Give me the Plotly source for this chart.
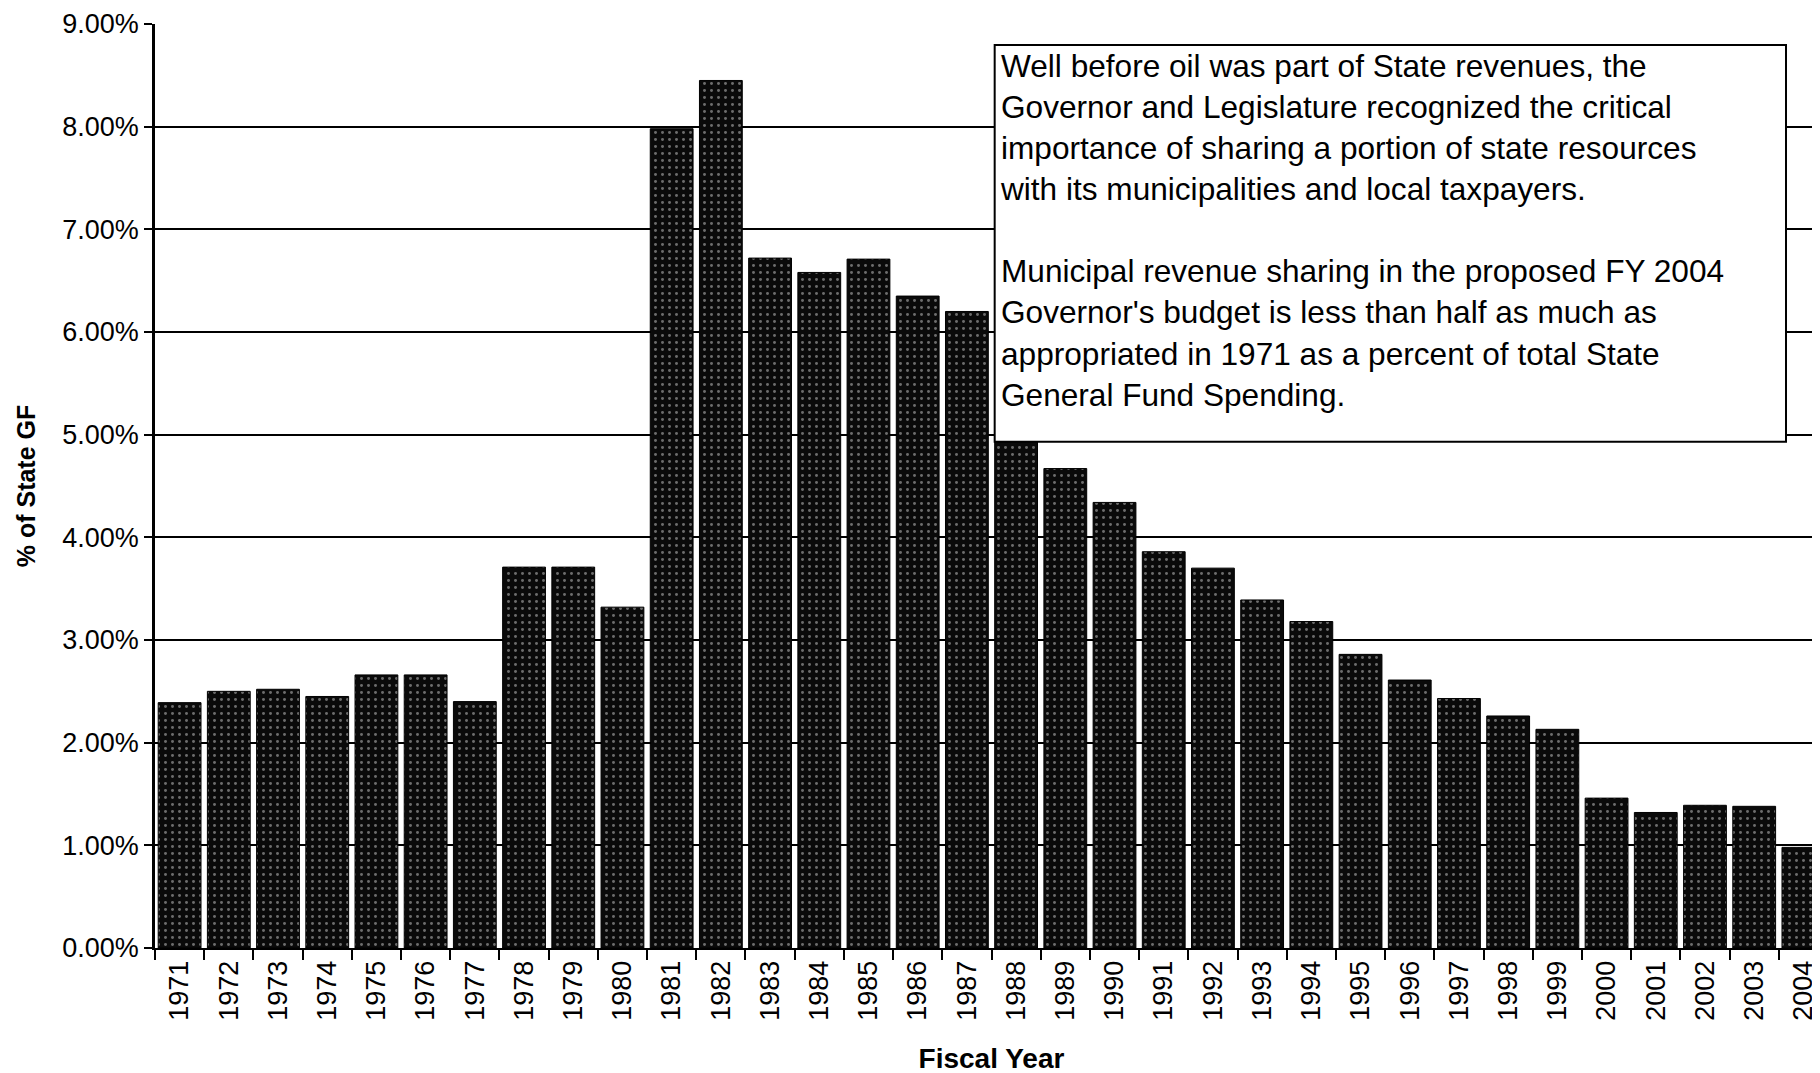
import plotly.graph_objects as go

years = [str(y) for y in range(1971, 2005)]
values = [2.39, 2.50, 2.52, 2.45, 2.66, 2.66, 2.40, 3.71, 3.71, 3.32,
          7.98, 8.45, 6.72, 6.58, 6.71, 6.35, 6.20, 5.40, 4.67, 4.34,
          3.86, 3.70, 3.39, 3.18, 2.86, 2.61, 2.43, 2.26, 2.13, 1.46,
          1.32, 1.39, 1.38, 0.98]
y_ticks = [0, 1, 2, 3, 4, 5, 6, 7, 8, 9]
y_tick_labels = [f"{v:.2f}%" for v in y_ticks]

note = ("Well before oil was part of State revenues, the<br>"
        "Governor and Legislature recognized the critical<br>"
        "importance of sharing a portion of state resources<br>"
        "with its municipalities and local taxpayers.<br>"
        "<br>"
        "Municipal revenue sharing in the proposed FY 2004<br>"
        "Governor's budget is less than half as much as<br>"
        "appropriated in 1971 as a percent of total State<br>"
        "General Fund Spending.")

fig = go.Figure()
fig.add_trace(go.Bar(
    x=years, y=values,
    marker=dict(color="#0a0a0a", line=dict(color="#000000", width=1),
                pattern=dict(shape=".", fgcolor="#d0d0d0", bgcolor="#0a0a0a",
                             size=7, solidity=0.14)),
    hoverinfo="x+y",
))

fig.add_shape(type="rect", xref="paper", yref="y",
              x0=0.5019, x1=0.9749, y0=4.93, y1=8.795,
              line=dict(color="black", width=2), fillcolor="white", layer="above")
fig.add_annotation(xref="paper", yref="y", x=0.5040, y=8.79,
                   xanchor="left", yanchor="top", align="left", showarrow=False,
                   text=note,
                   font=dict(family="Liberation Sans, Arial", size=31.6, color="black"))

fig.update_layout(
    width=1820, height=1073,
    margin=dict(l=147, r=0, t=16, b=133),
    paper_bgcolor="white", plot_bgcolor="white",
    bargap=0.13, showlegend=False,
    font=dict(family="Liberation Sans, Arial, sans-serif", color="black"),
)
fig.update_xaxes(
    type="category", tickangle=-90, tickson="boundaries",
    ticks="outside", ticklen=10, tickwidth=1.5, tickcolor="black",
    tickfont=dict(size=27),
    showline=True, linecolor="black", linewidth=2,
    showgrid=False,
    title=dict(text="<b>Fiscal Year</b>", font=dict(size=28), standoff=29),
)
fig.update_yaxes(
    range=[0, 9], tickvals=y_ticks, ticktext=y_tick_labels,
    ticks="outside", ticklen=8, tickwidth=1.5, tickcolor="black",
    tickfont=dict(size=27),
    showline=True, linecolor="black", linewidth=2.5,
    showgrid=True, gridcolor="black", gridwidth=1.5,
    zeroline=False,
    title=dict(text="<b>% of State GF</b>", font=dict(size=25), standoff=20),
)

fig.write_html("out.html")
